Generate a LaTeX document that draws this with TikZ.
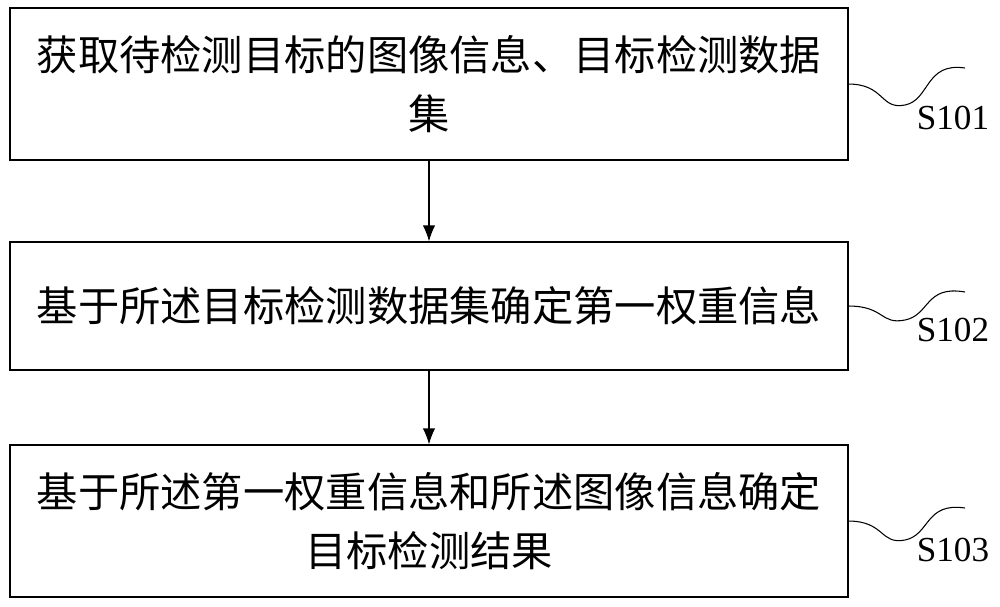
\documentclass[tikz,border=0pt]{standalone}
\usepackage{fontspec}
\setmainfont{Liberation Serif}
\newfontfamily\cjk{Noto Sans CJK SC}
\begin{document}
\begin{tikzpicture}[x=0.02cm,y=-0.02cm,
  stepbox/.style={draw,line width=0.8pt,minimum width=838*0.02cm,align=center,font=\cjk\fontsize{23.5}{34}\selectfont,inner sep=0pt},
  lbl/.style={font=\fontsize{20}{22}\selectfont},
  arr/.style={-{Latex[length=9pt,width=7pt]},line width=0.6pt},
  wave/.style={line width=0.6pt}]
\usetikzlibrary{arrows.meta}
\useasboundingbox (0,0) rectangle (1000,606);
\node[stepbox,minimum height=152*0.02cm] (b1) at (429,84) {获取待检测目标的图像信息、目标检测数据\\集};
\node[stepbox,minimum height=128*0.02cm] (b2) at (429,306) {基于所述目标检测数据集确定第一权重信息};
\node[stepbox,minimum height=152*0.02cm] (b3) at (429,521) {基于所述第一权重信息和所述图像信息确定\\目标检测结果};
\draw[arr] (b1.south) -- (b2.north);
\draw[arr] (b2.south) -- (b3.north);
\node[lbl] (s1) at (953,118) {S101};
\node[lbl] (s2) at (953,330) {S102};
\node[lbl] (s3) at (953,550) {S103};
\coordinate (w1) at (848,84);
\coordinate (w2) at (848,306);
\coordinate (w3) at (848,521);
\draw[wave] (w1) .. controls (885,84) and (880,110) .. (905,105) .. controls (930,100) and (925,62) .. (965,68);
\draw[wave] (w2) .. controls (885,306) and (880,325) .. (905,320) .. controls (930,315) and (925,285) .. (965,292);
\draw[wave] (w3) .. controls (885,521) and (880,545) .. (905,540) .. controls (930,535) and (925,502) .. (965,508);
\end{tikzpicture}
\end{document}
